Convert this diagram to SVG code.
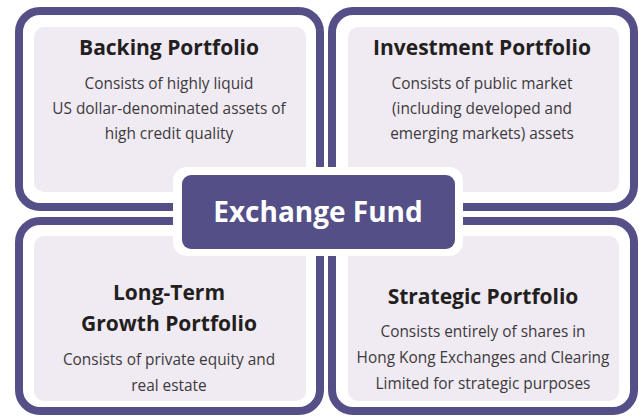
<svg xmlns="http://www.w3.org/2000/svg" width="639" height="416" viewBox="0 0 639 416">
<style>
.frame{fill:#ffffff;stroke:#544f87;stroke-width:8}
.inner{fill:#f0eaf3}
.title{font-family:"Open Sans","Liberation Sans",sans-serif;font-weight:700;font-size:21px;fill:#231f20;text-anchor:middle}
.body{font-family:"Open Sans","Liberation Sans",sans-serif;font-size:15.4px;fill:#3c3a3c;text-anchor:middle}
.hub{font-family:"Open Sans","Liberation Sans",sans-serif;font-weight:700;font-size:28px;fill:#ffffff;text-anchor:middle}
</style>
<rect width="639" height="416" fill="#ffffff"/>
<g id="backing-portfolio">
<rect class="frame" x="19" y="11" width="301" height="196" rx="21"/>
<rect class="inner" x="34" y="27" width="272" height="165" rx="10"/>
<text class="title" x="169" y="55">Backing Portfolio</text>
<text class="body" x="169" y="89">Consists of highly liquid</text>
<text class="body" x="169" y="114">US dollar-denominated assets of</text>
<text class="body" x="169" y="139">high credit quality</text>
</g>
<g id="investment-portfolio">
<rect class="frame" x="332" y="11" width="302" height="196" rx="21"/>
<rect class="inner" x="348" y="27" width="271" height="165" rx="10"/>
<text class="title" x="482" y="55">Investment Portfolio</text>
<text class="body" x="482" y="89">Consists of public market</text>
<text class="body" x="482" y="114">(including developed and</text>
<text class="body" x="482" y="139">emerging markets) assets</text>
</g>
<g id="long-term-growth-portfolio">
<rect class="frame" x="19" y="221" width="301" height="190" rx="21"/>
<rect class="inner" x="34" y="236" width="272" height="165" rx="10"/>
<text class="title" x="169" y="300">Long-Term</text>
<text class="title" x="169" y="331">Growth Portfolio</text>
<text class="body" x="169" y="365">Consists of private equity and</text>
<text class="body" x="169" y="391">real estate</text>
</g>
<g id="strategic-portfolio">
<rect class="frame" x="332" y="221" width="302" height="190" rx="21"/>
<rect class="inner" x="348" y="236" width="271" height="165" rx="10"/>
<text class="title" x="483" y="304">Strategic Portfolio</text>
<text class="body" x="483" y="337">Consists entirely of shares in</text>
<text class="body" x="483" y="363">Hong Kong Exchanges and Clearing</text>
<text class="body" x="483" y="389">Limited for strategic purposes</text>
</g>
<g id="exchange-fund">
<rect x="173" y="167" width="290" height="89" rx="14" fill="#ffffff"/>
<rect x="182" y="175" width="273" height="74" rx="9" fill="#544f87"/>
<text class="hub" x="318" y="222">Exchange Fund</text>
</g>
<g id="connectors"/>
</svg>
